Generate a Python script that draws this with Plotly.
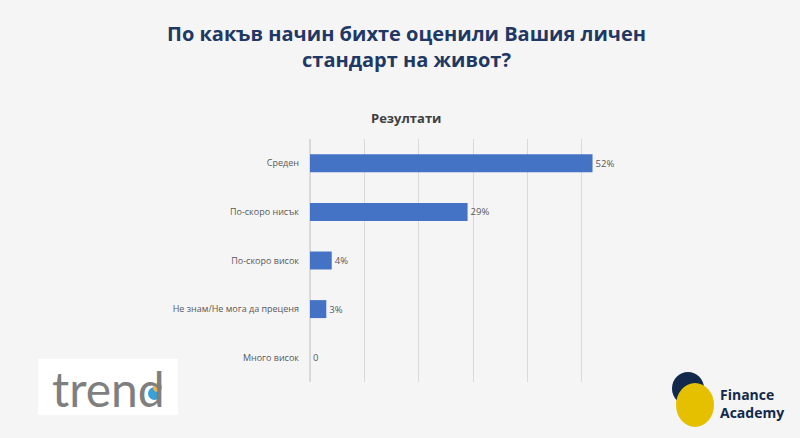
import plotly.graph_objects as go

categories = ["Среден", "По-скоро нисък", "По-скоро висок", "Не знам/Не мога да преценя", "Много висок"]
values = [52, 29, 4, 3, 0]
labels = [f"{v}%" if v else "0" for v in values]
tick_vals = [0, 10, 20, 30, 40, 50, 60]

W, H = 800, 438
L, R, T, B = 310, 164, 139, 56
PW, PH = W - L - R, H - T - B

fig = go.Figure()
fig.add_trace(go.Bar(
    y=categories, x=values, orientation="h",
    marker=dict(color="#4472c4", line=dict(width=0)),
    width=0.37,
    text=labels, textposition="outside",
    textfont=dict(family="Open Sans", size=9.5, color="#595959"),
    cliponaxis=False,
    hoverinfo="skip",
))

def px(x):
    return (x - L) / PW

def py(y):
    return (H - B - y) / PH

shapes = [
    # trend logo box
    dict(type="rect", xref="paper", yref="paper", x0=px(38), x1=px(178), y0=py(415), y1=py(359),
         fillcolor="white", line=dict(width=0), layer="below"),
    dict(type="circle", xref="paper", yref="paper", x0=px(148), x1=px(161), y0=py(400), y1=py(387),
         fillcolor="#3aa0dc", line=dict(width=0)),
    dict(type="circle", xref="paper", yref="paper", x0=px(153), x1=px(162), y0=py(392), y1=py(383),
         fillcolor="#f2b632", line=dict(width=0)),
    # Finance Academy circles
    dict(type="circle", xref="paper", yref="paper", x0=px(672), x1=px(704), y0=py(405), y1=py(372),
         fillcolor="#13294b", line=dict(width=0)),
    dict(type="circle", xref="paper", yref="paper", x0=px(676), x1=px(714), y0=py(427), y1=py(383),
         fillcolor="#e5c000", line=dict(width=0)),
]

annotations = [
    dict(text="<b>По какъв начин бихте оценили Вашия личен<br>стандарт на живот?</b>",
         xref="paper", yref="paper", x=px(406), y=py(47), xanchor="center", yanchor="middle",
         showarrow=False, font=dict(family="Open Sans", size=20, color="#1f3864"), align="center"),
    dict(text="<b>Резултати</b>", xref="paper", yref="paper", x=px(406), y=py(118),
         xanchor="center", yanchor="middle", showarrow=False,
         font=dict(family="Open Sans", size=13, color="#404040")),
    dict(text="trend", xref="paper", yref="paper", x=px(108), y=py(388),
         xanchor="center", yanchor="middle", showarrow=False,
         font=dict(family="Lato", size=48, color="#7f7f7f")),
    dict(text="<b>Finance<br>Academy</b>", xref="paper", yref="paper", x=px(718), y=py(403),
         xanchor="left", yanchor="middle", showarrow=False, align="left",
         font=dict(family="Open Sans", size=14, color="#13294b")),
]

fig.update_layout(
    width=W, height=H,
    margin=dict(l=L, r=R, t=T, b=B),
    paper_bgcolor="#f5f5f6",
    plot_bgcolor="rgba(0,0,0,0)",
    showlegend=False,
    xaxis=dict(range=[0, 60], tickvals=tick_vals, showticklabels=False, showgrid=True,
               gridcolor="#d9d9d9", gridwidth=1, zeroline=True, zerolinecolor="#d9d9d9",
               fixedrange=True),
    yaxis=dict(categoryorder="array", categoryarray=categories[::-1], showgrid=False,
               ticks="", ticklabelstandoff=10,
               tickfont=dict(family="Open Sans", size=9, color="#595959"), fixedrange=True),
    shapes=shapes,
    annotations=annotations,
    bargap=0.63,
)

fig.write_html("out.html")
